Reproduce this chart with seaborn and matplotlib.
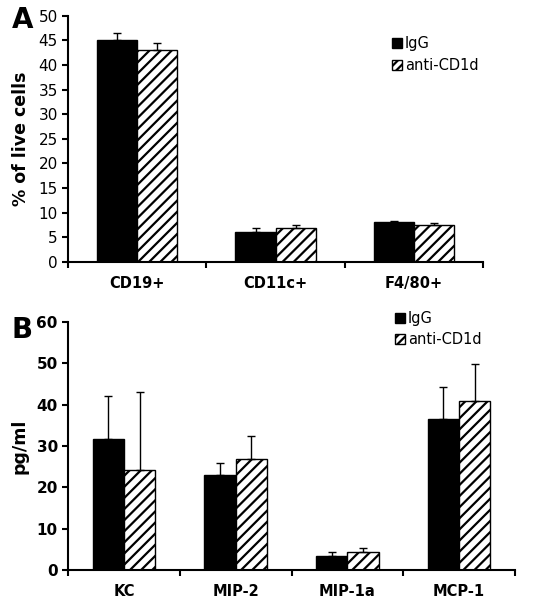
import pandas as pd
import matplotlib.pyplot as plt
import seaborn as sns
import numpy as np
from matplotlib.patches import Patch

# Panel A values (% of live cells)
cells = ['CD19+', 'CD11c+', 'F4/80+']
cells_igg = [45.0, 6.0, 8.1]
cells_igg_err = [1.4, 0.8, 0.2]
cells_anti = [43.0, 6.8, 7.4]
cells_anti_err = [1.4, 0.7, 0.4]

# Panel B values (pg/ml)
chemokines = ['KC', 'MIP-2', 'MIP-1a', 'MCP-1']
chem_igg = [31.8, 23.1, 3.5, 36.5]
chem_igg_err = [10.2, 2.8, 1.0, 7.7]
chem_anti = [24.2, 26.9, 4.4, 40.9]
chem_anti_err = [18.8, 5.5, 1.0, 8.8]

groups = ['IgG', 'anti-CD1d']

sns.set_theme(style="white")
plt.rcParams['font.family'] = ['DejaVu Sans']
plt.rcParams['hatch.linewidth'] = 1.6
plt.rcParams['hatch.color'] = 'black'
for key in ['text.color', 'axes.labelcolor', 'xtick.color', 'ytick.color']:
    plt.rcParams[key] = 'black'


def long_df(cats, a, b):
    return pd.DataFrame({
        'cat': cats * 2,
        'group': [groups[0]] * len(cats) + [groups[1]] * len(cats),
        'value': list(a) + list(b),
    })


def draw_panel(fig, ax, cats, a, a_err, b, b_err, width, ymax, ystep, ylabel,
               letter, letter_y, legend_xy, ytick_weight):
    df = long_df(cats, a, b)
    sns.barplot(data=df, x='cat', y='value', hue='group', order=cats,
                hue_order=groups, palette=['black', 'white'], edgecolor='black',
                linewidth=1.0, width=width, errorbar=None, ax=ax, legend=False)
    for cont, errs in zip(ax.containers, [a_err, b_err]):
        xs = [p.get_x() + p.get_width() / 2 for p in cont.patches]
        hs = [p.get_height() for p in cont.patches]
        ax.errorbar(xs, hs, yerr=[np.zeros(len(errs)), errs], fmt='none',
                    ecolor='black', elinewidth=1.0, capsize=3, capthick=1.0)
    for p in ax.containers[1].patches:
        p.set_hatch('///')

    ax.set_ylim(0, ymax)
    ax.set_yticks(np.arange(0, ymax + 1, ystep))
    ax.set_xlim(-0.5, len(cats) - 0.5)
    ax.set_xticks(range(len(cats)))
    ax.set_xticks(np.arange(-0.5, len(cats), 1.0), minor=True)
    ax.tick_params(axis='x', which='major', length=0, pad=10)
    ax.tick_params(axis='x', which='minor', length=4, width=1.5, direction='out',
                   bottom=True, color='black')
    ax.tick_params(axis='y', length=4, width=1.5, direction='out', left=True,
                   color='black', labelsize=11)
    for lab in ax.get_xticklabels():
        lab.set_fontweight('bold')
        lab.set_fontsize(10.5)
    for lab in ax.get_yticklabels():
        lab.set_fontweight(ytick_weight)
    ax.set_xlabel('')
    ax.set_ylabel(ylabel, fontsize=12.5, fontweight='bold', labelpad=6)
    for s in ['top', 'right']:
        ax.spines[s].set_visible(False)
    for s in ['left', 'bottom']:
        ax.spines[s].set_color('black')
        ax.spines[s].set_linewidth(1.5)

    handles = [Patch(facecolor='black', edgecolor='black', label=groups[0]),
               Patch(facecolor='white', edgecolor='black', hatch='////', label=groups[1])]
    fig.legend(handles=handles, loc='upper left', bbox_to_anchor=legend_xy,
               frameon=False, fontsize=10.5, handlelength=0.7, handleheight=0.7,
               handletextpad=0.2, labelspacing=0.45, borderpad=0, borderaxespad=0)
    fig.text(0.022, letter_y, letter, fontsize=20, fontweight='bold',
             ha='left', va='center')


fig = plt.figure(figsize=(5.33, 6.06), dpi=100)
ax_a = fig.add_axes([0.128, 0.568, 0.778, 0.406])
ax_b = fig.add_axes([0.128, 0.059, 0.838, 0.410])

draw_panel(fig, ax_a, cells, cells_igg, cells_igg_err, cells_anti, cells_anti_err,
           0.58, 50, 5, '% of live cells', 'A', 0.967, (0.735, 0.94), 'normal')
draw_panel(fig, ax_b, chemokines, chem_igg, chem_igg_err, chem_anti, chem_anti_err,
           0.56, 60, 10, 'pg/ml', 'B', 0.455, (0.741, 0.487), 'bold')

fig.savefig('out.png', dpi=100)
